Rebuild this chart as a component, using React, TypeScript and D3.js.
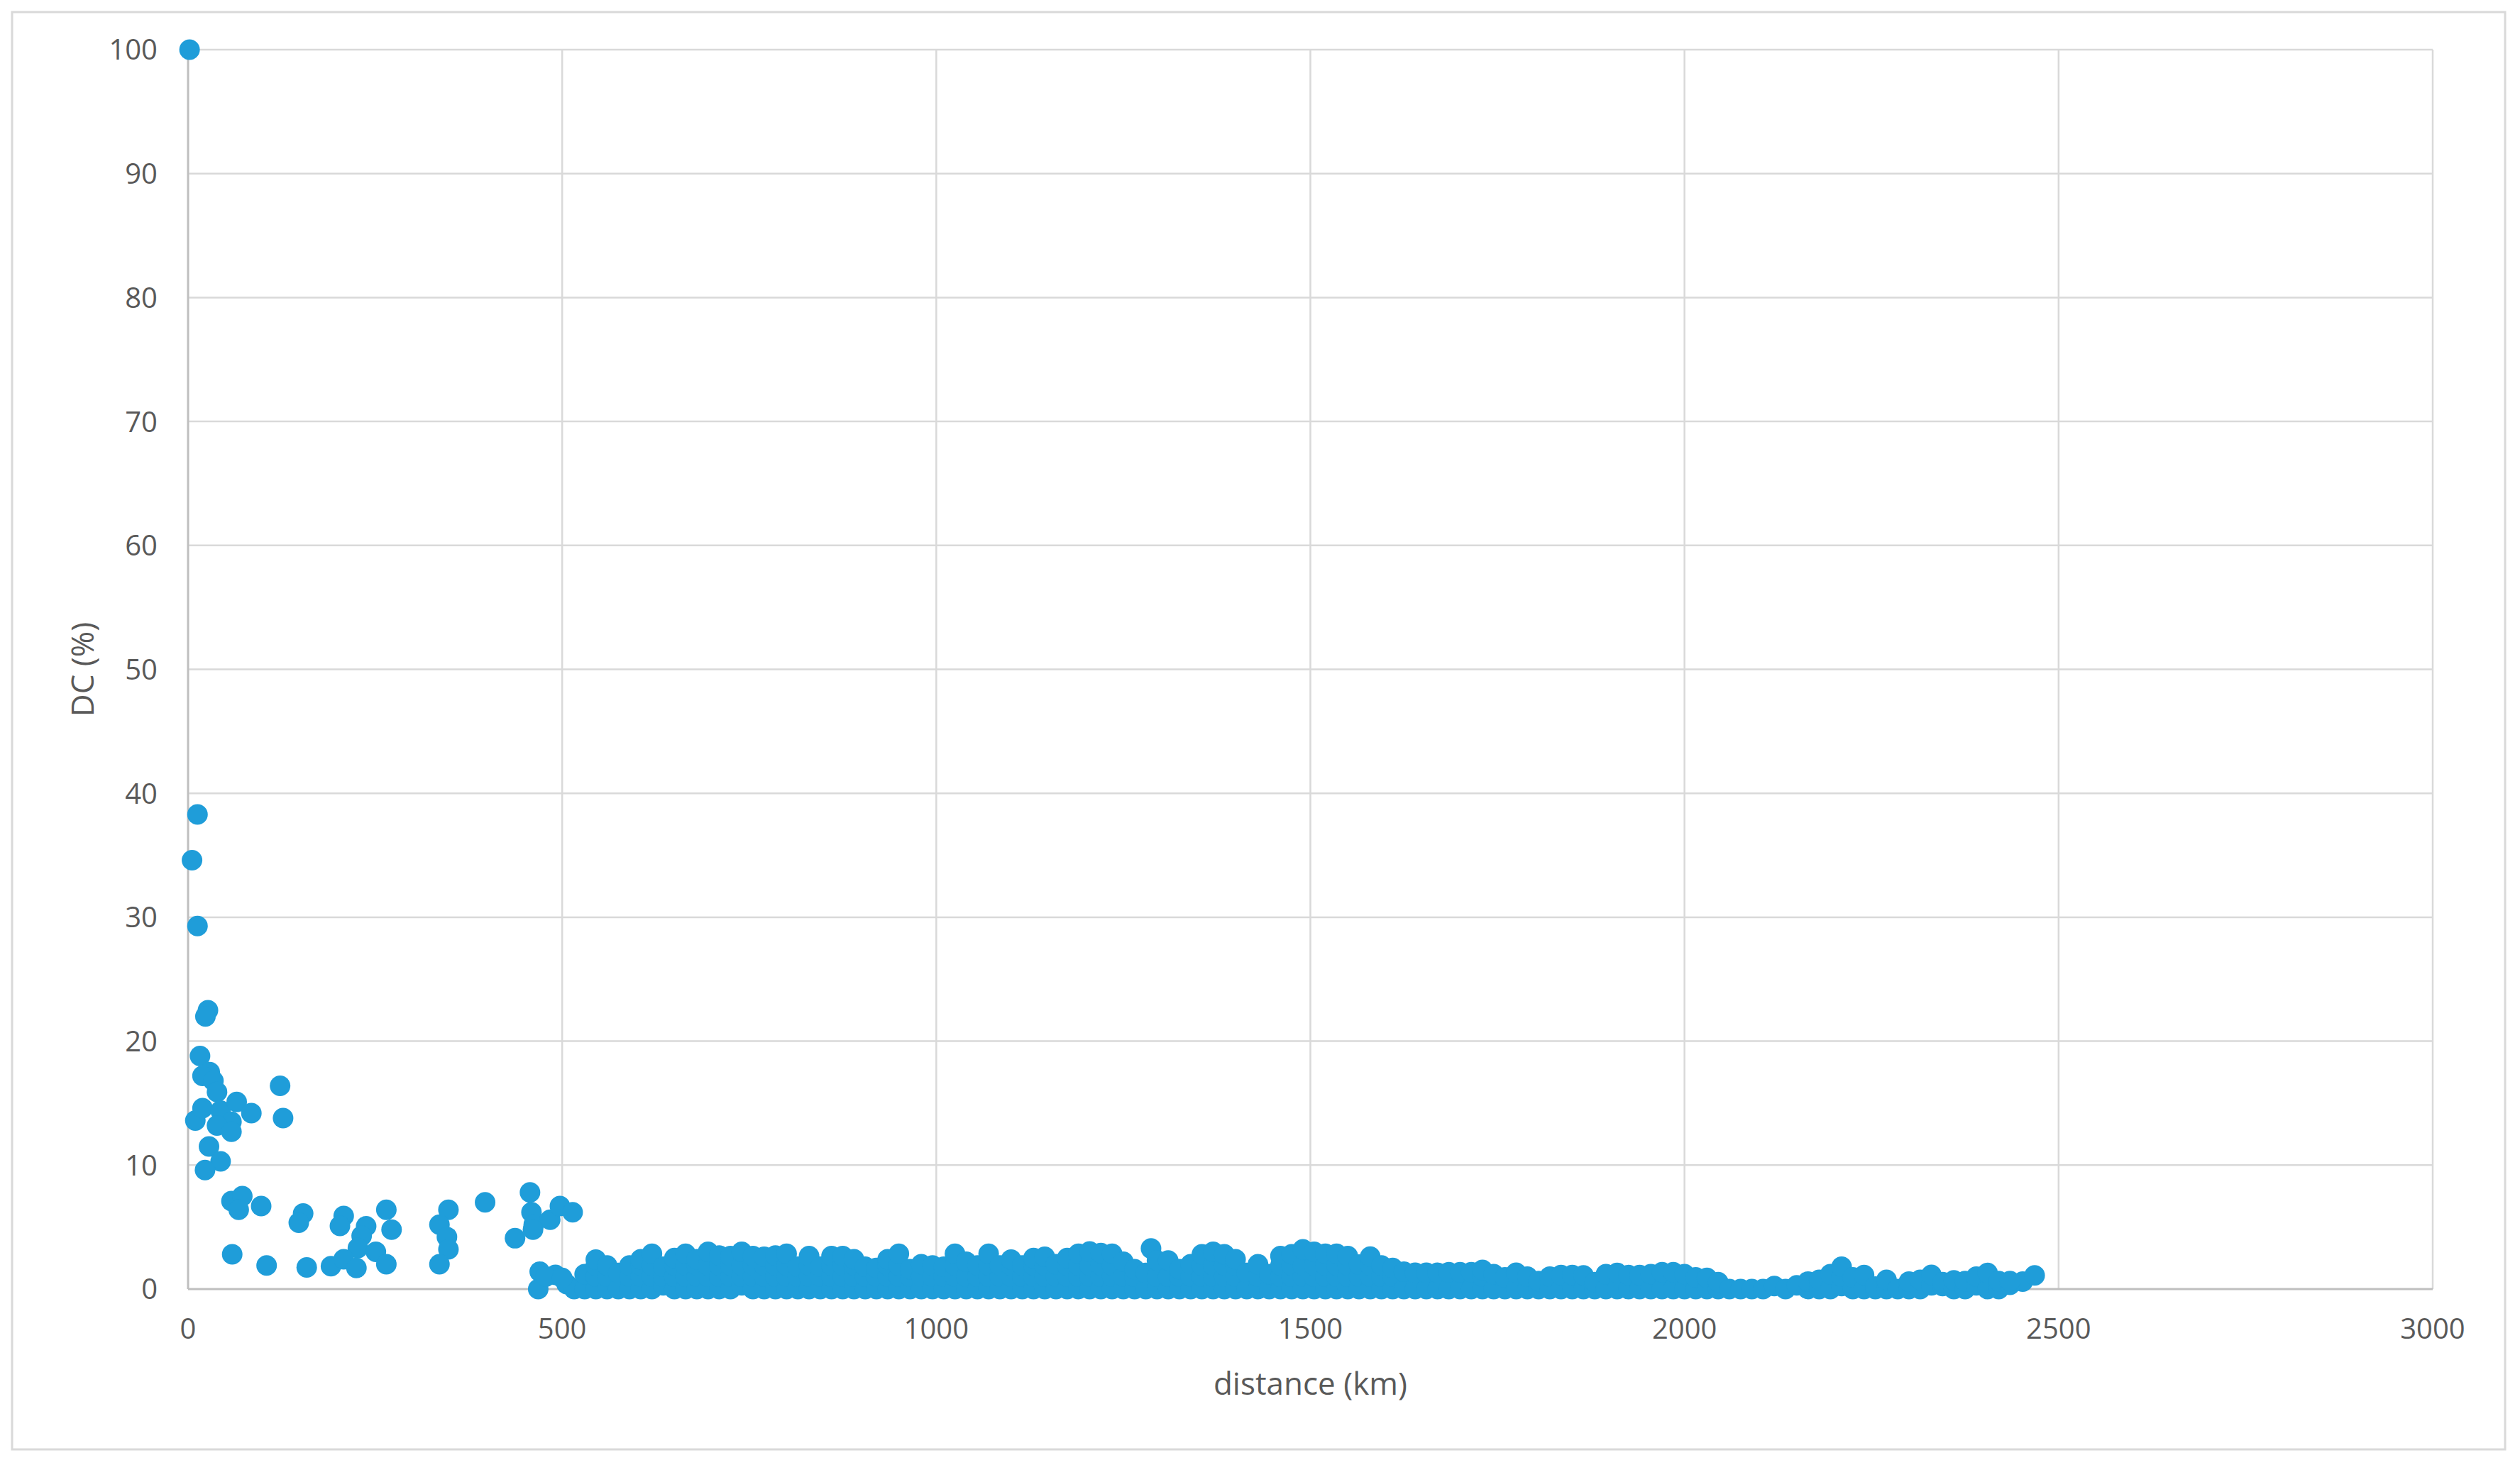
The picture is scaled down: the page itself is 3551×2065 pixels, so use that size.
import React from 'react';
import * as d3 from 'd3';

// axis ticks
const xTicks = [0, 500, 1000, 1500, 2000, 2500, 3000];
const yTicks = [0, 10, 20, 30, 40, 50, 60, 70, 80, 90, 100];

// scattered points below ~530 km (distance km, DC %)
const sparseKm = [
  2, 12.6, 5.3, 12.6, 26.6, 23.2, 16, 29, 19.3, 33.9, 38.7, 123, 127, 9.7, 19.3, 43.5,
  65, 84.6, 58, 38.7, 58, 28, 43.5, 22.7, 58, 72.5, 67.7, 97.7, 59, 105, 153.8, 148,
  158.6, 208, 203, 238, 232, 227, 265, 272, 251, 265, 191, 208, 225, 348, 336, 346,
  348, 336, 397, 457, 459, 462, 484, 497, 514, 437, 461, 470, 468, 491, 506, 516,
  478, 500, 1287, 2452, 2468,
];
const sparseDc = [
  100, 38.3, 34.6, 29.3, 22.5, 22.0, 18.8, 17.5, 17.2, 16.8, 15.9, 16.4, 13.8, 13.6, 14.6, 14.4,
  15.1, 14.2, 13.5, 13.2, 12.7, 11.5, 10.3, 9.6, 7.1, 7.5, 6.4, 6.7, 2.8, 1.9, 6.1, 5.35,
  1.75, 5.9, 5.1, 5.06, 4.3, 3.3, 6.4, 4.8, 3.0, 2.0, 1.84, 2.4, 1.7, 6.4, 5.2, 4.2,
  3.2, 2.0, 7.0, 7.8, 6.2, 5.2, 5.6, 6.7, 6.2, 4.1, 4.8, 1.4, 0, 1.15, 0.4, 0,
  1.0, 0.9, 3.27, 0.6, 1.1,
];

// dense band 530-2435 km: one column every 15 km, several points stacked per column
const bandKm = [
  530, 545, 560, 575, 590, 605, 620, 635, 650, 665, 680, 695, 710, 725, 740, 755,
  770, 785, 800, 815, 830, 845, 860, 875, 890, 905, 920, 935, 950, 965, 980, 995,
  1010, 1025, 1040, 1055, 1070, 1085, 1100, 1115, 1130, 1145, 1160, 1175, 1190, 1205, 1220, 1235,
  1250, 1265, 1280, 1295, 1310, 1325, 1340, 1355, 1370, 1385, 1400, 1415, 1430, 1445, 1460, 1475,
  1490, 1505, 1520, 1535, 1550, 1565, 1580, 1595, 1610, 1625, 1640, 1655, 1670, 1685, 1700, 1715,
  1730, 1745, 1760, 1775, 1790, 1805, 1820, 1835, 1850, 1865, 1880, 1895, 1910, 1925, 1940, 1955,
  1970, 1985, 2000, 2015, 2030, 2045, 2060, 2075, 2090, 2105, 2120, 2135, 2150, 2165, 2180, 2195,
  2210, 2225, 2240, 2255, 2270, 2285, 2300, 2315, 2330, 2345, 2360, 2375, 2390, 2405, 2420, 2435,
];
const bandFloor = [
  0, 0, 0, 0, 0, 0, 0, 0.3, 0, 0, 0, 0, 0, 0, 0.3, 0,
  0, 0, 0, 0, 0, 0, 0, 0, 0, 0, 0, 0, 0, 0, 0, 0,
  0, 0, 0, 0, 0, 0, 0, 0, 0, 0, 0, 0, 0, 0, 0, 0,
  0, 0, 0, 0, 0, 0, 0, 0, 0, 0, 0, 0, 0, 0, 0, 0,
  0, 0, 0, 0, 0, 0, 0, 0, 0, 0, 0, 0, 0, 0, 0, 0,
  0, 0, 0, 0, 0, 0, 0, 0, 0, 0, 0, 0, 0, 0, 0, 0,
  0, 0, 0, 0, 0, 0, 0, 0, 0, 0, 0.25, 0, 0.3, 0, 0, 0,
  0.25, 0, 0, 0, 0, 0, 0, 0, 0.3, 0.25, 0, 0, 0.3, 0, 0, 0.35,
];
const bandMid = [
  null, 1.0, 1.0, null, 1.0, 1.0, 1.0, 1.0, 1.0, 1.0, 1.0, 1.0, 1.0, 1.0, 1.0, 1.0,
  1.0, 1.0, 1.0, 1.0, 1.0, 1.0, 1.0, 1.0, 1.0, 1.0, 1.0, 1.0, 1.0, 1.0, 1.0, 1.0,
  1.0, 1.0, 1.0, 1.0, 1.0, 1.0, 1.0, 1.0, 1.0, 1.0, 1.0, 1.0, 1.0, 1.0, 1.0, 1.0,
  1.0, 1.0, null, 1.0, 1.0, 1.0, 1.0, 1.0, 1.0, 1.0, 1.0, null, 1.0, null, 1.0, 1.0,
  1.0, 1.0, 1.0, 1.0, 1.0, 1.0, 1.0, 1.0, 1.0, null, null, null, null, null, null, null,
  1.0, null, null, null, null, null, null, null, null, null, null, null, null, null, null, null,
  null, null, null, null, null, null, null, null, null, null, null, null, null, null, null, null,
  1.0, null, null, null, null, null, null, null, null, null, null, null, null, null, null, null,
];
const bandUpper = [
  null, 1.9, null, null, null, 1.9, 1.9, null, 1.9, 1.9, 1.9, 1.9, 1.9, 1.9, 1.9, 1.9,
  1.9, 1.9, 1.9, null, 1.9, null, 1.9, 1.9, 1.9, null, null, 1.9, 1.9, null, null, null,
  null, 1.9, null, null, 1.9, null, 1.9, null, 1.9, 1.9, null, 1.9, 1.9, 1.9, 1.9, 1.9,
  null, null, null, null, null, null, null, 1.9, 1.9, 1.9, 1.9, null, null, null, 1.9, 1.9,
  1.9, 1.9, 1.9, 1.9, 1.9, null, 1.9, null, null, null, null, null, null, null, null, null,
  null, null, null, null, null, null, null, null, null, null, null, null, null, null, null, null,
  null, null, null, null, null, null, null, null, null, null, null, null, null, null, null, null,
  null, null, null, null, null, null, null, null, null, null, null, null, null, null, null, null,
];
const bandTop = [
  1.2, 2.37, 1.9, 1.3, 1.9, 2.4, 2.85, 1.8, 2.5, 2.85, 2.4, 3.0, 2.7, 2.66, 3.0, 2.66,
  2.6, 2.7, 2.85, 1.8, 2.66, 1.8, 2.66, 2.66, 2.4, 1.8, 1.7, 2.4, 2.85, 1.6, 2.0, 1.9,
  1.8, 2.85, 2.2, 1.9, 2.85, 1.9, 2.37, 1.9, 2.5, 2.6, 2.0, 2.5, 2.85, 3.04, 2.9, 2.85,
  2.2, 1.6, 1.3, 2.3, 2.3, 1.6, 2.0, 2.8, 3.0, 2.8, 2.4, 1.3, 2.0, 1.2, 2.66, 2.8,
  3.2, 3.0, 2.85, 2.85, 2.66, 1.98, 2.62, 1.9, 1.7, 1.4, 1.32, 1.32, 1.32, 1.36, 1.36, 1.36,
  1.55, 1.2, 0.95, 1.32, 1.0, 0.65, 1.0, 1.13, 1.13, 1.1, 0.56, 1.2, 1.3, 1.13, 1.13, 1.2,
  1.36, 1.36, 1.2, 0.94, 0.9, 0.56, null, null, null, null, null, null, null, 0.6, 0.75, 1.2,
  1.8, 0.94, 1.13, 0.2, 0.75, null, 0.6, 0.75, 1.15, 0.56, 0.7, 0.65, 1.0, 1.3, 0.65, 0.65,
];

const W = 3551;
const H = 2065;
const plot = { left: 265, right: 3428, top: 70, bottom: 1817 };
const dotColor = '#1F9DD9';
const font = '"Open Sans", "Noto Sans", sans-serif';

const App: React.FC = () => {
  const x = d3.scaleLinear().domain([0, 3000]).range([plot.left, plot.right]);
  const y = d3.scaleLinear().domain([0, 100]).range([plot.bottom, plot.top]);

  const points: [number, number][] = [];
  sparseKm.forEach((km, i) => points.push([km, sparseDc[i]]));
  bandKm.forEach((km, i) => {
    [bandFloor[i], bandMid[i], bandUpper[i], bandTop[i]].forEach((v) => {
      if (v !== null && v !== undefined) points.push([km, v]);
    });
  });

  return (
    <svg
      width={W}
      height={H}
      style={{ position: 'absolute', left: 0, top: 0, background: '#fff' }}
    >
      <rect x={0} y={0} width={W} height={H} fill="#fff" />
      <rect x={17} y={17} width={3513} height={2026} fill="none" stroke="#d9d9d9" strokeWidth={3} />

      {/* gridlines */}
      {yTicks.filter((t) => t > 0).map((t) => (
        <line key={'gy' + t} x1={plot.left} x2={plot.right} y1={y(t)} y2={y(t)} stroke="#d9d9d9" strokeWidth={2.5} />
      ))}
      {xTicks.filter((t) => t > 0).map((t) => (
        <line key={'gx' + t} x1={x(t)} x2={x(t)} y1={plot.top} y2={plot.bottom} stroke="#d9d9d9" strokeWidth={2.5} />
      ))}

      {/* axes */}
      <line x1={plot.left} x2={plot.left} y1={plot.top} y2={plot.bottom} stroke="#bfbfbf" strokeWidth={3} />
      <line x1={plot.left} x2={plot.right} y1={plot.bottom} y2={plot.bottom} stroke="#bfbfbf" strokeWidth={3} />

      {/* tick labels */}
      {yTicks.map((t) => (
        <text key={'ty' + t} x={222} y={y(t)} dy="0.36em" textAnchor="end" fontFamily={font} fontSize={40} fill="#595959">
          {t}
        </text>
      ))}
      {xTicks.map((t) => (
        <text key={'tx' + t} x={x(t)} y={1873} dy="0.36em" textAnchor="middle" fontFamily={font} fontSize={40} fill="#595959">
          {t}
        </text>
      ))}

      {/* axis titles */}
      <text x={(plot.left + plot.right) / 2} y={1950} dy="0.36em" textAnchor="middle" fontFamily={font} fontSize={44} fill="#595959">
        distance (km)
      </text>
      <text
        transform={`translate(116, ${(plot.top + plot.bottom) / 2}) rotate(-90)`}
        dy="0.36em"
        textAnchor="middle"
        fontFamily={font}
        fontSize={44}
        fill="#595959"
      >
        DC (%)
      </text>

      {/* markers */}
      <g fill={dotColor}>
        {points.map(([km, dc], i) => (
          <circle key={i} cx={x(km)} cy={y(dc)} r={14.5} />
        ))}
      </g>
    </svg>
  );
};

export default App;
